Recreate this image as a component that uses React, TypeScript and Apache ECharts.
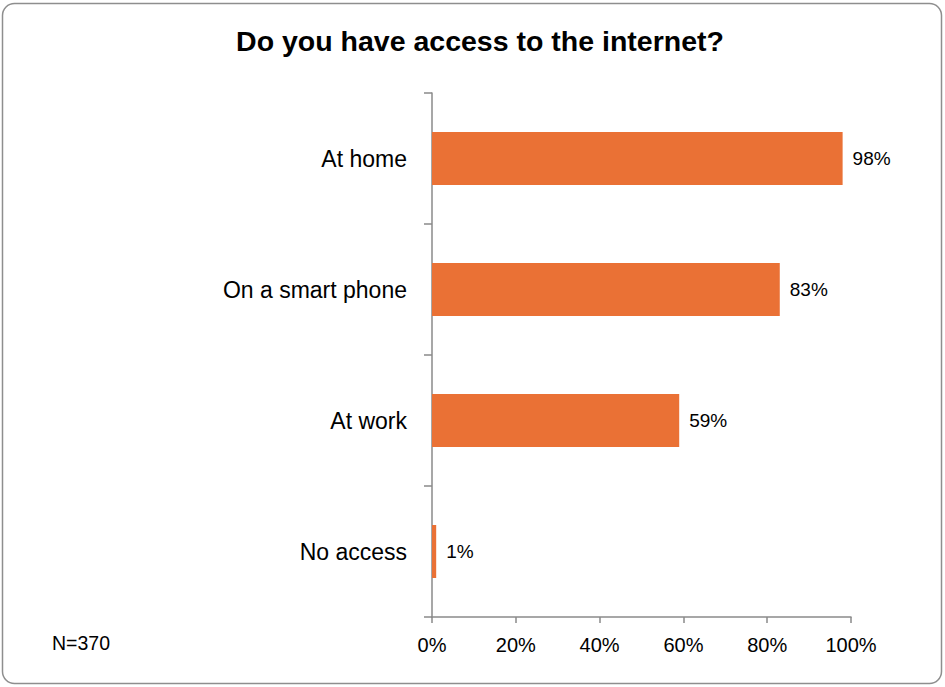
import React, { useEffect, useRef } from "react";
import * as echarts from "echarts";

const categories = ["At home", "On a smart phone", "At work", "No access"];
const values = [98, 83, 59, 1];
const xTicks = [0, 20, 40, 60, 80, 100];
const titleText = "Do you have access to the internet?";
const noteText = "N=370";

export default function App() {
  const ref = useRef<HTMLDivElement>(null);
  useEffect(() => {
    if (!ref.current) return;
    const chart = echarts.init(ref.current, null, { renderer: "svg" });
    chart.setOption({
      animation: false,
      backgroundColor: "#ffffff",
      graphic: [
        {
          type: "rect",
          shape: { x: 2.5, y: 3.5, width: 939, height: 680, r: 12 },
          style: { fill: "none", stroke: "#8e8e8e", lineWidth: 1.5 },
          silent: true,
        },
        {
          type: "text",
          x: 480,
          y: 41,
          style: {
            text: titleText,
            fontFamily: "'Liberation Sans', Arial",
            fontWeight: "bold",
            fontSize: 28.5,
            fill: "#000",
            align: "center",
            verticalAlign: "middle",
          },
        },
        {
          type: "text",
          x: 52,
          y: 643,
          style: {
            text: noteText,
            fontFamily: "'Liberation Sans', Arial",
            fontSize: 19.5,
            fill: "#000",
            align: "left",
            verticalAlign: "middle",
          },
        },
      ],
      grid: { left: 432, top: 93, width: 419, height: 524, containLabel: false },
      xAxis: {
        type: "value",
        min: 0,
        max: 100,
        interval: 20,
        axisLine: { show: true, lineStyle: { color: "#8a8a8a", width: 1.5 } },
        axisTick: { show: true, length: 6, lineStyle: { color: "#8a8a8a", width: 1.5 } },
        splitLine: { show: false },
        axisLabel: {
          formatter: (v: number) => (xTicks.includes(v) ? v + "%" : ""),
          fontFamily: "'Liberation Sans', Arial",
          fontSize: 20,
          color: "#000",
          margin: 18,
        },
      },
      yAxis: {
        type: "category",
        data: categories,
        inverse: true,
        axisLine: { show: true, lineStyle: { color: "#8a8a8a", width: 1.5 } },
        axisTick: { show: true, length: 8, lineStyle: { color: "#8a8a8a", width: 1.5 } },
        axisLabel: {
          fontFamily: "'Liberation Sans', Arial",
          fontSize: 23,
          color: "#000",
          margin: 25,
        },
      },
      series: [
        {
          type: "bar",
          data: values,
          barWidth: 53,
          itemStyle: { color: "#EA7135" },
          label: {
            show: true,
            position: "right",
            distance: 10,
            formatter: (p: any) => p.value + "%",
            fontFamily: "'Liberation Sans', Arial",
            fontSize: 19,
            color: "#000",
          },
        },
      ],
    });
    return () => chart.dispose();
  }, []);
  return <div ref={ref} style={{ width: 945, height: 687, position: "fixed", left: 0, top: 0 }} />;
}
